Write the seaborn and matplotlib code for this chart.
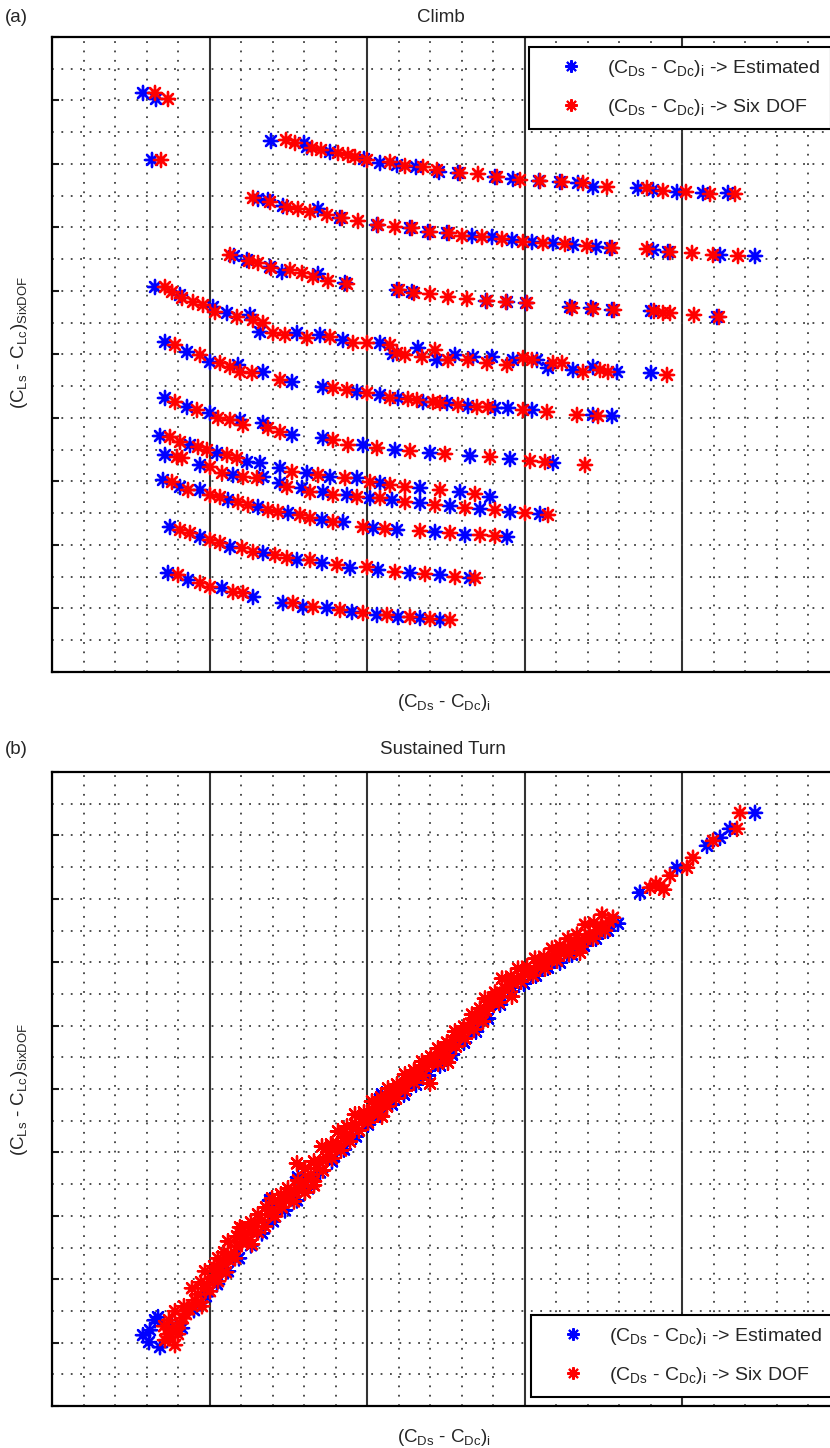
import numpy as np
import pandas as pd
import matplotlib
matplotlib.use("Agg")
import matplotlib.pyplot as plt
import seaborn as sns
from matplotlib.lines import Line2D
from matplotlib.ticker import FixedLocator

# ---------------- data (arbitrary units) ----------------
SERIES = ["Estimated", "Six DOF"]
COLORS = {"Estimated": "#0000ff", "Six DOF": "#ff0000"}

# (a) Climb : rows of points, (x, y)
climb_r0_est = [(91, 579), (104, 573), (100, 512)]
climb_r0_six = [(103, 579), (116, 573), (109, 512)]
climb_r1_est = [(219, 531), (252, 529), (255, 525), (278, 520), (312, 513), (328, 509), (345, 507), (364, 505), (387, 500), (406, 499), (443, 495), (461, 493), (487, 491), (508, 490), (526, 489), (541, 485), (586, 484), (601, 482), (625, 480), (651, 479), (676, 479)]
climb_r1_six = [(234, 532), (243, 529), (260, 524), (269, 522), (286, 519), (296, 517), (303, 515), (315, 512), (338, 510), (353, 506), (371, 505), (385, 502), (408, 499), (426, 498), (445, 495), (468, 492), (488, 491), (510, 490), (531, 489), (555, 485), (595, 484), (611, 481), (634, 480), (658, 478), (683, 478)]
climb_r2_est = [(206, 473), (216, 472), (231, 466), (266, 463), (288, 454), (325, 447), (358, 444), (376, 440), (395, 439), (420, 436), (440, 435), (460, 432), (480, 430), (501, 429), (521, 427), (544, 425), (558, 424), (601, 422), (616, 420), (668, 417), (703, 416)]
climb_r2_six = [(201, 474), (218, 470), (235, 465), (246, 463), (258, 460), (275, 457), (290, 454), (306, 451), (326, 447), (343, 445), (360, 444), (378, 440), (397, 439), (410, 436), (430, 435), (450, 433), (471, 430), (491, 429), (513, 428), (535, 426), (560, 424), (595, 423), (618, 420), (640, 419), (661, 417), (686, 416)]
climb_r3_est = [(182, 416), (195, 412), (218, 405), (230, 400), (266, 398), (293, 389), (345, 382), (360, 380), (434, 371), (455, 370), (474, 369), (518, 365), (539, 364), (560, 362), (599, 361), (665, 355)]
climb_r3_six = [(178, 417), (197, 411), (206, 409), (219, 404), (238, 402), (250, 399), (261, 395), (276, 391), (295, 388), (347, 382), (362, 379), (378, 378), (396, 375), (415, 373), (435, 371), (454, 370), (475, 369), (520, 364), (541, 363), (562, 362), (602, 361), (611, 359), (618, 359), (642, 357), (667, 355)]
climb_r4_est = [(103, 385), (128, 377), (161, 365), (175, 359), (198, 357), (208, 340), (245, 339), (268, 337), (291, 332), (328, 329), (341, 318), (366, 324), (385, 312), (403, 317), (421, 315), (440, 315), (461, 312), (485, 312), (496, 304), (521, 302), (541, 305), (565, 300), (599, 299)]
climb_r4_six = [(113, 385), (120, 380), (130, 374), (141, 370), (151, 367), (163, 360), (185, 355), (201, 352), (211, 349), (221, 339), (233, 337), (255, 334), (278, 335), (301, 329), (315, 329), (338, 327), (345, 319), (353, 317), (370, 315), (383, 322), (396, 312), (416, 312), (435, 309), (455, 307), (471, 314), (480, 312), (501, 309), (510, 309), (531, 300), (548, 302), (556, 300), (615, 297)]
climb_r5_est = [(113, 330), (135, 320), (158, 310), (186, 307), (211, 300), (240, 290), (271, 285), (305, 280), (328, 277), (346, 274), (371, 270), (395, 269), (416, 266), (443, 264), (456, 264), (480, 262), (541, 257), (560, 256)]
climb_r5_six = [(123, 327), (148, 317), (168, 309), (178, 305), (188, 300), (200, 299), (228, 292), (281, 284), (295, 282), (315, 279), (338, 274), (356, 273), (365, 272), (381, 270), (388, 269), (406, 267), (425, 265), (436, 265), (471, 262), (495, 260), (525, 257), (546, 256)]
climb_r6_est = [(113, 274), (135, 265), (158, 259), (188, 252), (211, 249), (240, 237), (271, 234), (311, 227), (343, 222), (378, 219), (418, 216), (458, 213), (501, 209)]
climb_r6_six = [(123, 270), (145, 262), (166, 254), (178, 252), (191, 247), (216, 244), (228, 240), (281, 232), (296, 227), (325, 224), (358, 221), (393, 218), (438, 215), (478, 211), (493, 210), (533, 207)]
climb_r7_est = [(108, 236), (138, 227), (165, 219), (195, 210), (208, 209), (113, 217), (148, 207), (181, 197), (211, 195)]
climb_r7_six = [(118, 235), (128, 230), (146, 225), (155, 222), (175, 217), (185, 214), (125, 215), (130, 214), (158, 205), (170, 199), (191, 195), (205, 194)]
climb_r8_est = [(228, 204), (255, 199), (278, 195), (305, 194), (328, 189), (368, 184), (408, 180), (438, 175)]
climb_r8_six = [(240, 200), (266, 197), (293, 194), (318, 190), (338, 187), (353, 185), (388, 182), (423, 178)]
climb_r9_est = [(228, 189), (250, 184), (271, 180), (295, 177), (318, 174), (340, 172), (368, 169), (398, 166), (428, 163), (458, 160), (488, 158)]
climb_r9_six = [(235, 185), (258, 180), (281, 177), (305, 175), (328, 174), (353, 170), (383, 167), (413, 164), (443, 162), (473, 159), (496, 157)]
climb_r10_est = [(111, 192), (128, 185), (148, 182), (176, 172), (206, 165), (236, 159), (270, 152), (291, 150), (321, 144), (345, 142), (383, 140), (413, 137), (455, 135)]
climb_r10_six = [(120, 190), (136, 182), (158, 177), (168, 175), (186, 170), (196, 167), (216, 162), (226, 160), (248, 157), (258, 154), (281, 150), (311, 145), (333, 143), (368, 141), (398, 139), (428, 137), (443, 136)]
climb_r11_est = [(118, 145), (148, 135), (178, 125), (211, 119), (245, 112), (270, 109), (298, 104), (326, 102), (358, 99), (388, 97), (418, 94)]
climb_r11_six = [(128, 142), (138, 139), (158, 132), (168, 129), (190, 124), (201, 120), (223, 117), (235, 114), (258, 112), (285, 107), (315, 105), (343, 100), (373, 98), (403, 95), (423, 94)]
climb_r12_est = [(116, 99), (136, 92), (170, 84), (201, 75)]
climb_r12_six = [(126, 97), (148, 89), (158, 85), (181, 80), (191, 79)]
climb_r13_est = [(231, 69), (251, 65), (275, 64), (300, 60), (325, 57), (346, 55), (368, 54), (388, 52)]
climb_r13_six = [(241, 69), (261, 65), (288, 62), (311, 59), (335, 57), (358, 55), (378, 53), (398, 52)]

# (b) Sustained turn : points along the band, (x, y)
turn_est_low = [(91, 71), (98, 76), (103, 86), (106, 89), (108, 59), (120, 80), (97, 64), (130, 78), (142, 96), (154, 110), (165, 122), (176, 135), (187, 148), (199, 161), (210, 173), (218, 206), (221, 185), (233, 196), (245, 206), (246, 229), (256, 218), (268, 234), (280, 245), (292, 257), (304, 270), (316, 282)]
turn_est_high = [(328, 292), (330, 312), (340, 302), (352, 312), (364, 322), (376, 331), (388, 341), (400, 352), (412, 364), (424, 375), (436, 388), (448, 402), (460, 415), (472, 423), (484, 431), (496, 439), (508, 444), (520, 452), (532, 461), (544, 468), (556, 476), (566, 483), (588, 514), (625, 539), (655, 561), (668, 569), (678, 578), (703, 594)]
turn_six_low = [(113, 66), (118, 69), (121, 76), (123, 61), (128, 83), (116, 72), (125, 78), (131, 88), (134, 92), (137, 97), (140, 101), (143, 106), (146, 112), (149, 104), (152, 118), (155, 122), (158, 115), (160, 128), (163, 131), (166, 125), (168, 136), (171, 142), (174, 134), (176, 147), (179, 152), (183, 148), (185, 160), (188, 179), (190, 164), (193, 171), (196, 166), (199, 175), (203, 180), (206, 174)]
turn_six_mid = [(210, 186), (213, 180), (216, 192), (220, 196), (223, 190), (227, 203), (230, 199), (234, 206), (238, 211), (242, 205), (245, 243), (247, 216), (250, 220), (253, 214), (256, 227), (259, 232), (262, 225), (265, 238), (268, 244), (271, 236), (274, 249), (277, 255), (280, 248), (283, 259), (286, 262), (289, 256), (292, 269), (295, 272), (298, 265), (301, 278), (304, 282), (307, 276), (310, 288), (313, 290), (316, 284)]
turn_six_up = [(320, 296), (323, 299), (326, 292), (329, 303), (332, 306), (335, 300), (338, 312), (341, 314), (344, 308), (347, 319), (350, 322), (353, 316), (356, 327), (359, 330), (362, 324), (365, 333), (368, 337), (371, 331), (374, 340), (378, 323), (380, 345), (383, 349), (386, 343), (389, 354), (392, 357), (395, 351), (398, 362), (401, 366), (404, 360), (407, 371), (410, 374), (413, 368), (416, 379), (419, 383), (422, 377), (425, 388), (428, 391), (431, 385), (434, 396), (437, 400)]
turn_six_top = [(441, 405), (444, 410), (447, 404), (450, 414), (453, 418), (457, 421), (461, 424), (465, 428), (469, 425), (473, 432), (477, 435), (481, 431), (485, 440), (489, 443), (493, 438), (497, 447), (501, 450), (505, 446), (509, 454), (513, 457), (517, 453), (521, 461), (525, 464), (529, 460), (533, 468), (537, 472), (541, 468), (545, 476), (549, 480), (553, 476), (557, 485), (561, 489), (598, 519), (604, 523), (608, 521), (612, 517), (618, 531), (635, 539), (641, 549), (661, 566), (685, 578), (688, 594)]
turn_six_edge = [(112, 80), (117, 86), (123, 95), (132, 100), (140, 118), (149, 124), (153, 135), (162, 140), (166, 148), (172, 154), (176, 165), (185, 170), (190, 178), (199, 184), (206, 192), (214, 199), (220, 208), (229, 212), (236, 218), (246, 226), (253, 238), (262, 245), (270, 260), (279, 262), (286, 275), (295, 280), (303, 292), (312, 294), (320, 305), (329, 309), (336, 318), (345, 322), (353, 332), (362, 336), (370, 345), (379, 350), (386, 358), (395, 364), (403, 375), (412, 380), (420, 392), (428, 398), (433, 408), (443, 414), (450, 428), (459, 430), (466, 438), (475, 440), (483, 448), (492, 450), (500, 458), (508, 461), (516, 468), (525, 472), (533, 482), (542, 484), (550, 492), (126, 72), (150, 100), (200, 162), (262, 221), (330, 290), (396, 344), (460, 410), (528, 454)]

XLABEL = "(C$_{Ds}$ - C$_{Dc}$)$_i$"
YLABEL = "(C$_{Ls}$ - C$_{Lc}$)$_{SixDOF}$"
LEG_LABELS = ["(C$_{Ds}$ - C$_{Dc}$)$_i$ -> Estimated", "(C$_{Ds}$ - C$_{Dc}$)$_i$ -> Six DOF"]


def to_frame(est_rows, six_rows):
    recs = []
    for rows, name in ((est_rows, SERIES[0]), (six_rows, SERIES[1])):
        for r in rows:
            for x, y in r:
                recs.append((x, y, name))
    return pd.DataFrame(recs, columns=["x", "y", "series"])


climb_df = to_frame(
    [climb_r0_est, climb_r1_est, climb_r2_est, climb_r3_est, climb_r4_est, climb_r5_est, climb_r6_est,
     climb_r7_est, climb_r8_est, climb_r9_est, climb_r10_est, climb_r11_est, climb_r12_est, climb_r13_est],
    [climb_r0_six, climb_r1_six, climb_r2_six, climb_r3_six, climb_r4_six, climb_r5_six, climb_r6_six,
     climb_r7_six, climb_r8_six, climb_r9_six, climb_r10_six, climb_r11_six, climb_r12_six, climb_r13_six])
turn_df = to_frame([turn_est_low, turn_est_high],
                   [turn_six_edge, turn_six_low, turn_six_mid, turn_six_up, turn_six_top])

# ---------------- style ----------------
sns.set_theme(style="white")
plt.rcParams["font.family"] = ["Liberation Sans", "DejaVu Sans"]
plt.rcParams["mathtext.default"] = "regular"
plt.rcParams["mathtext.fontset"] = "custom"
plt.rcParams["mathtext.rm"] = "Liberation Sans"
plt.rcParams["mathtext.it"] = "Liberation Sans:italic"

W, H = 830, 1448
fig = plt.figure(figsize=(W / 100, H / 100), dpi=100)
fig.patch.set_facecolor("white")

AST = (8, 2, 0)
DOT = (0, (1, 4.2))


def setup(ax):
    ax.set_xlim(0, 788)
    ax.set_ylim(0, 635)
    ax.xaxis.set_major_locator(FixedLocator(np.arange(6) * 157.6))
    ax.xaxis.set_minor_locator(FixedLocator(np.arange(26) * 31.52))
    ax.yaxis.set_major_locator(FixedLocator(np.arange(11) * 63.5))
    ax.yaxis.set_minor_locator(FixedLocator(np.arange(21) * 31.75))
    ax.grid(which="major", axis="x", color="#333333", lw=1.5, ls="-")
    ax.grid(which="major", axis="y", color="#404040", lw=1.3, ls=DOT)
    ax.grid(which="minor", axis="both", color="#404040", lw=1.3, ls=DOT)
    ax.set_axisbelow(True)
    ax.tick_params(which="both", labelleft=False, labelbottom=False)
    ax.tick_params(which="minor", length=0)
    ax.tick_params(axis="x", which="major", length=0)
    ax.tick_params(axis="y", which="major", direction="in", length=5, width=1.5, color="k", left=True)
    for s in ("top", "left", "bottom", "right"):
        ax.spines[s].set_color("black")
        ax.spines[s].set_linewidth(1.6)
    ax.set_xlabel("")
    ax.set_ylabel("")


def panel(rect, df, legend_top):
    ax = fig.add_axes(rect)
    sns.scatterplot(data=df, x="x", y="y", hue="series", hue_order=SERIES, palette=COLORS,
                    marker=AST, s=105, linewidth=1.7, legend=False, ax=ax, zorder=3)
    setup(ax)
    handles = [Line2D([], [], ls="none", marker=AST, color=COLORS[s], markersize=9, mew=1.5) for s in SERIES]
    leg = ax.legend(handles, LEG_LABELS, loc="upper left", bbox_to_anchor=legend_top,
                    bbox_transform=fig.transFigure, frameon=True, fancybox=False, edgecolor="black",
                    framealpha=1, fontsize=14, handlelength=3.2, handletextpad=0.25, labelspacing=0.95,
                    borderpad=0.55, borderaxespad=0)
    leg.get_frame().set_linewidth(1.5)
    return ax


ax1 = panel([52 / W, 1 - 672 / H, 788 / W, 635 / H], climb_df, (529 / W, 1 - 47 / H))
ax2 = panel([52 / W, 1 - 1406 / H, 788 / W, 634 / H], turn_df, (531 / W, 1 - 1315 / H))

FS = 13.5
fig.text(5 / W, 1 - 18 / H, "(a)", fontsize=FS, ha="left", va="center")
fig.text(441 / W, 1 - 18 / H, "Climb", fontsize=FS, ha="center", va="center")
fig.text(444 / W, 1 - 703 / H, XLABEL, fontsize=FS, ha="center", va="center")
fig.text(20 / W, 1 - 343 / H, YLABEL, fontsize=FS, ha="center", va="center", rotation=90)

fig.text(5 / W, 1 - 750 / H, "(b)", fontsize=FS, ha="left", va="center")
fig.text(443 / W, 1 - 750 / H, "Sustained Turn", fontsize=FS, ha="center", va="center")
fig.text(444 / W, 1 - 1437 / H, XLABEL, fontsize=FS, ha="center", va="center")
fig.text(20 / W, 1 - 1090 / H, YLABEL, fontsize=FS, ha="center", va="center", rotation=90)

fig.savefig("out.png", dpi=100, facecolor="white")
